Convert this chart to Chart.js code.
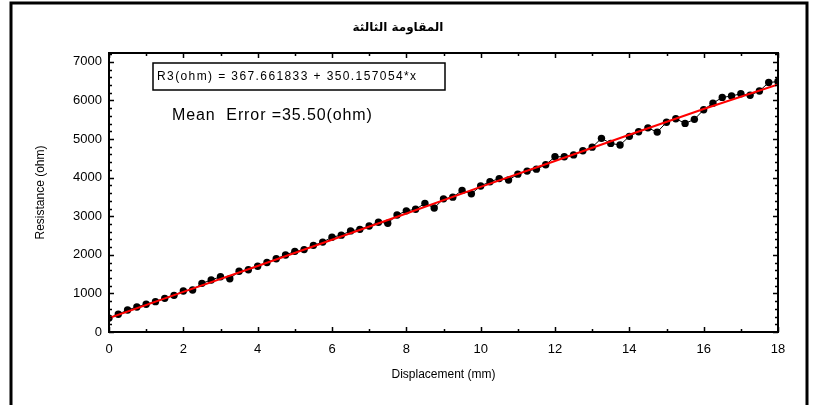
<!DOCTYPE html>
<html>
<head>
<meta charset="utf-8">
<script src="https://cdn.jsdelivr.net/npm/chart.js@4.4.1/dist/chart.umd.min.js"></script>
<style>
  html, body { margin: 0; padding: 0; background: #fff; }
  #wrap { width: 818px; height: 405px; }
</style>
</head>
<body>
<div id="wrap"><canvas id="resChart" width="818" height="405"></canvas></div>
<script>
// displacement (mm) of each measured point, 0.25 mm apart
const displacement = [
  0, 0.25, 0.5, 0.75, 1, 1.25, 1.5, 1.75, 2, 2.25, 2.5, 2.75,
  3, 3.25, 3.5, 3.75, 4, 4.25, 4.5, 4.75, 5, 5.25, 5.5, 5.75,
  6, 6.25, 6.5, 6.75, 7, 7.25, 7.5, 7.75, 8, 8.25, 8.5, 8.75,
  9, 9.25, 9.5, 9.75, 10, 10.25, 10.5, 10.75, 11, 11.25, 11.5, 11.75,
  12, 12.25, 12.5, 12.75, 13, 13.25, 13.5, 13.75, 14, 14.25, 14.5, 14.75,
  15, 15.25, 15.5, 15.75, 16, 16.25, 16.5, 16.75, 17, 17.25, 17.5, 17.75, 18
];
// measured resistance (ohm)
const resistance = [
  360, 460, 570, 648, 720, 786, 872, 950, 1062, 1088, 1261, 1347,
  1433, 1380, 1575, 1615, 1705, 1800, 1900, 1995, 2090, 2135, 2245, 2330,
  2455, 2510, 2620, 2660, 2746, 2845, 2820, 3031, 3140, 3180, 3334, 3215,
  3450, 3495, 3670, 3580, 3785, 3894, 3975, 3938, 4090, 4170, 4220, 4335,
  4541, 4541, 4590, 4695, 4790, 5018, 4888, 4845, 5070, 5189, 5290, 5180,
  5435, 5527, 5406, 5510, 5760, 5930, 6080, 6114, 6175, 6135, 6245, 6465, 6490
];
// fitted line
const fitX = [0, 2, 4, 6, 8, 10, 12, 14, 16, 18];
const fitY = [363, 1040, 1710, 2390, 3070, 3760, 4430, 5110, 5780, 6417];

const xTickLabels = [0, 2, 4, 6, 8, 10, 12, 14, 16, 18];
const yTickLabels = [0, 1000, 2000, 3000, 4000, 5000, 6000, 7000];

const chartTitle = 'المقاومة الثالثة';
const equationText = 'R3(ohm) = 367.661833 + 350.157054*x';
const errorText = 'Mean  Error =35.50(ohm)';

const decorPlugin = {
  id: 'decor',
  beforeDraw(chart) {
    const ctx = chart.ctx;
    ctx.save();
    ctx.fillStyle = '#fff';
    ctx.fillRect(0, 0, chart.width, chart.height);
    // outer page frame
    ctx.strokeStyle = '#000';
    ctx.lineWidth = 3;
    ctx.beginPath();
    ctx.moveTo(11, 405);
    ctx.lineTo(11, 3);
    ctx.lineTo(807, 3);
    ctx.lineTo(807, 405);
    ctx.stroke();
    ctx.restore();
  },
  afterDraw(chart) {
    const ctx = chart.ctx;
    const a = chart.chartArea;
    const xs = chart.scales.x, ys = chart.scales.y;
    ctx.save();
    // plot box
    ctx.strokeStyle = '#000';
    ctx.lineWidth = 2;
    ctx.strokeRect(a.left, a.top, a.right - a.left, a.bottom - a.top);
    // inward ticks on all sides
    ctx.lineWidth = 1.5;
    ctx.beginPath();
    for (let v = 0; v <= 18; v++) {
      const px = Math.round(xs.getPixelForValue(v)) + 0.5;
      const len = v % 2 === 0 ? 5 : 3;
      ctx.moveTo(px, a.bottom); ctx.lineTo(px, a.bottom - len);
      ctx.moveTo(px, a.top); ctx.lineTo(px, a.top + len);
    }
    for (let v = 0; v <= 7200; v += 200) {
      const py = Math.round(ys.getPixelForValue(v)) + 0.5;
      const len = v % 1000 === 0 ? 5 : 3;
      ctx.moveTo(a.left, py); ctx.lineTo(a.left + len, py);
      ctx.moveTo(a.right, py); ctx.lineTo(a.right - len, py);
    }
    ctx.stroke();

    // title
    ctx.fillStyle = '#000';
    ctx.font = 'bold 12px "DejaVu Sans"';
    ctx.textAlign = 'center';
    ctx.textBaseline = 'middle';
    ctx.fillText(chartTitle, 398, 28);

    // equation box
    ctx.lineWidth = 1.5;
    ctx.strokeRect(a.left + 44, a.top + 10, 292, 27);
    ctx.font = '12px "Liberation Sans"';
    ctx.textAlign = 'left';
    ctx.letterSpacing = '1.4px';
    ctx.fillText(equationText, a.left + 48, a.top + 24);

    ctx.font = '16px "Liberation Sans"';
    ctx.letterSpacing = '0.9px';
    ctx.fillText(errorText, a.left + 63, a.top + 63);
    ctx.restore();
  }
};

new Chart(document.getElementById('resChart'), {
  type: 'line',
  data: {
    datasets: [
      {
        label: 'fit',
        data: fitX.map((x, i) => ({ x: x, y: fitY[i] })),
        borderColor: '#ff0000',
        borderWidth: 2,
        pointRadius: 0,
        tension: 0
      },
      {
        label: 'measured',
        data: displacement.map((x, i) => ({ x: x, y: resistance[i] })),
        borderColor: '#000',
        borderWidth: 1,
        pointRadius: 3.7,
        pointBackgroundColor: '#000',
        pointBorderColor: '#000',
        pointBorderWidth: 0,
        tension: 0
      }
    ]
  },
  options: {
    responsive: false,
    animation: false,
    events: [],
    layout: { padding: { left: 0, right: 40, top: 53, bottom: 0 } },
    plugins: {
      legend: { display: false },
      tooltip: { enabled: false },
      title: { display: false }
    },
    scales: {
      x: {
        type: 'linear',
        min: 0,
        max: 18,
        afterFit: (s) => { s.height = 73; },
        afterBuildTicks: (s) => { s.ticks = xTickLabels.map(v => ({ value: v })); },
        grid: { display: false, drawTicks: false },
        border: { display: false },
        ticks: {
          color: '#000',
          padding: 10,
          font: { family: 'Liberation Sans', size: 13 },
          maxRotation: 0,
          callback: (v) => String(v)
        },
        title: {
          display: true,
          text: 'Displacement (mm)',
          color: '#000',
          font: { family: 'Liberation Sans', size: 12 },
          padding: { top: 0, bottom: 23 }
        }
      },
      y: {
        type: 'linear',
        min: 0,
        max: 7230,
        afterFit: (s) => { s.width = 109; },
        afterBuildTicks: (s) => { s.ticks = yTickLabels.map(v => ({ value: v })); },
        grid: { display: false, drawTicks: false },
        border: { display: false },
        ticks: {
          color: '#000',
          padding: 7,
          font: { family: 'Liberation Sans', size: 13 },
          callback: (v) => String(v)
        },
        title: {
          display: true,
          text: 'Resistance (ohm)',
          color: '#000',
          font: { family: 'Liberation Sans', size: 12 },
          padding: { top: 33, bottom: 0 }
        }
      }
    }
  },
  plugins: [decorPlugin]
});
</script>
</body>
</html>
